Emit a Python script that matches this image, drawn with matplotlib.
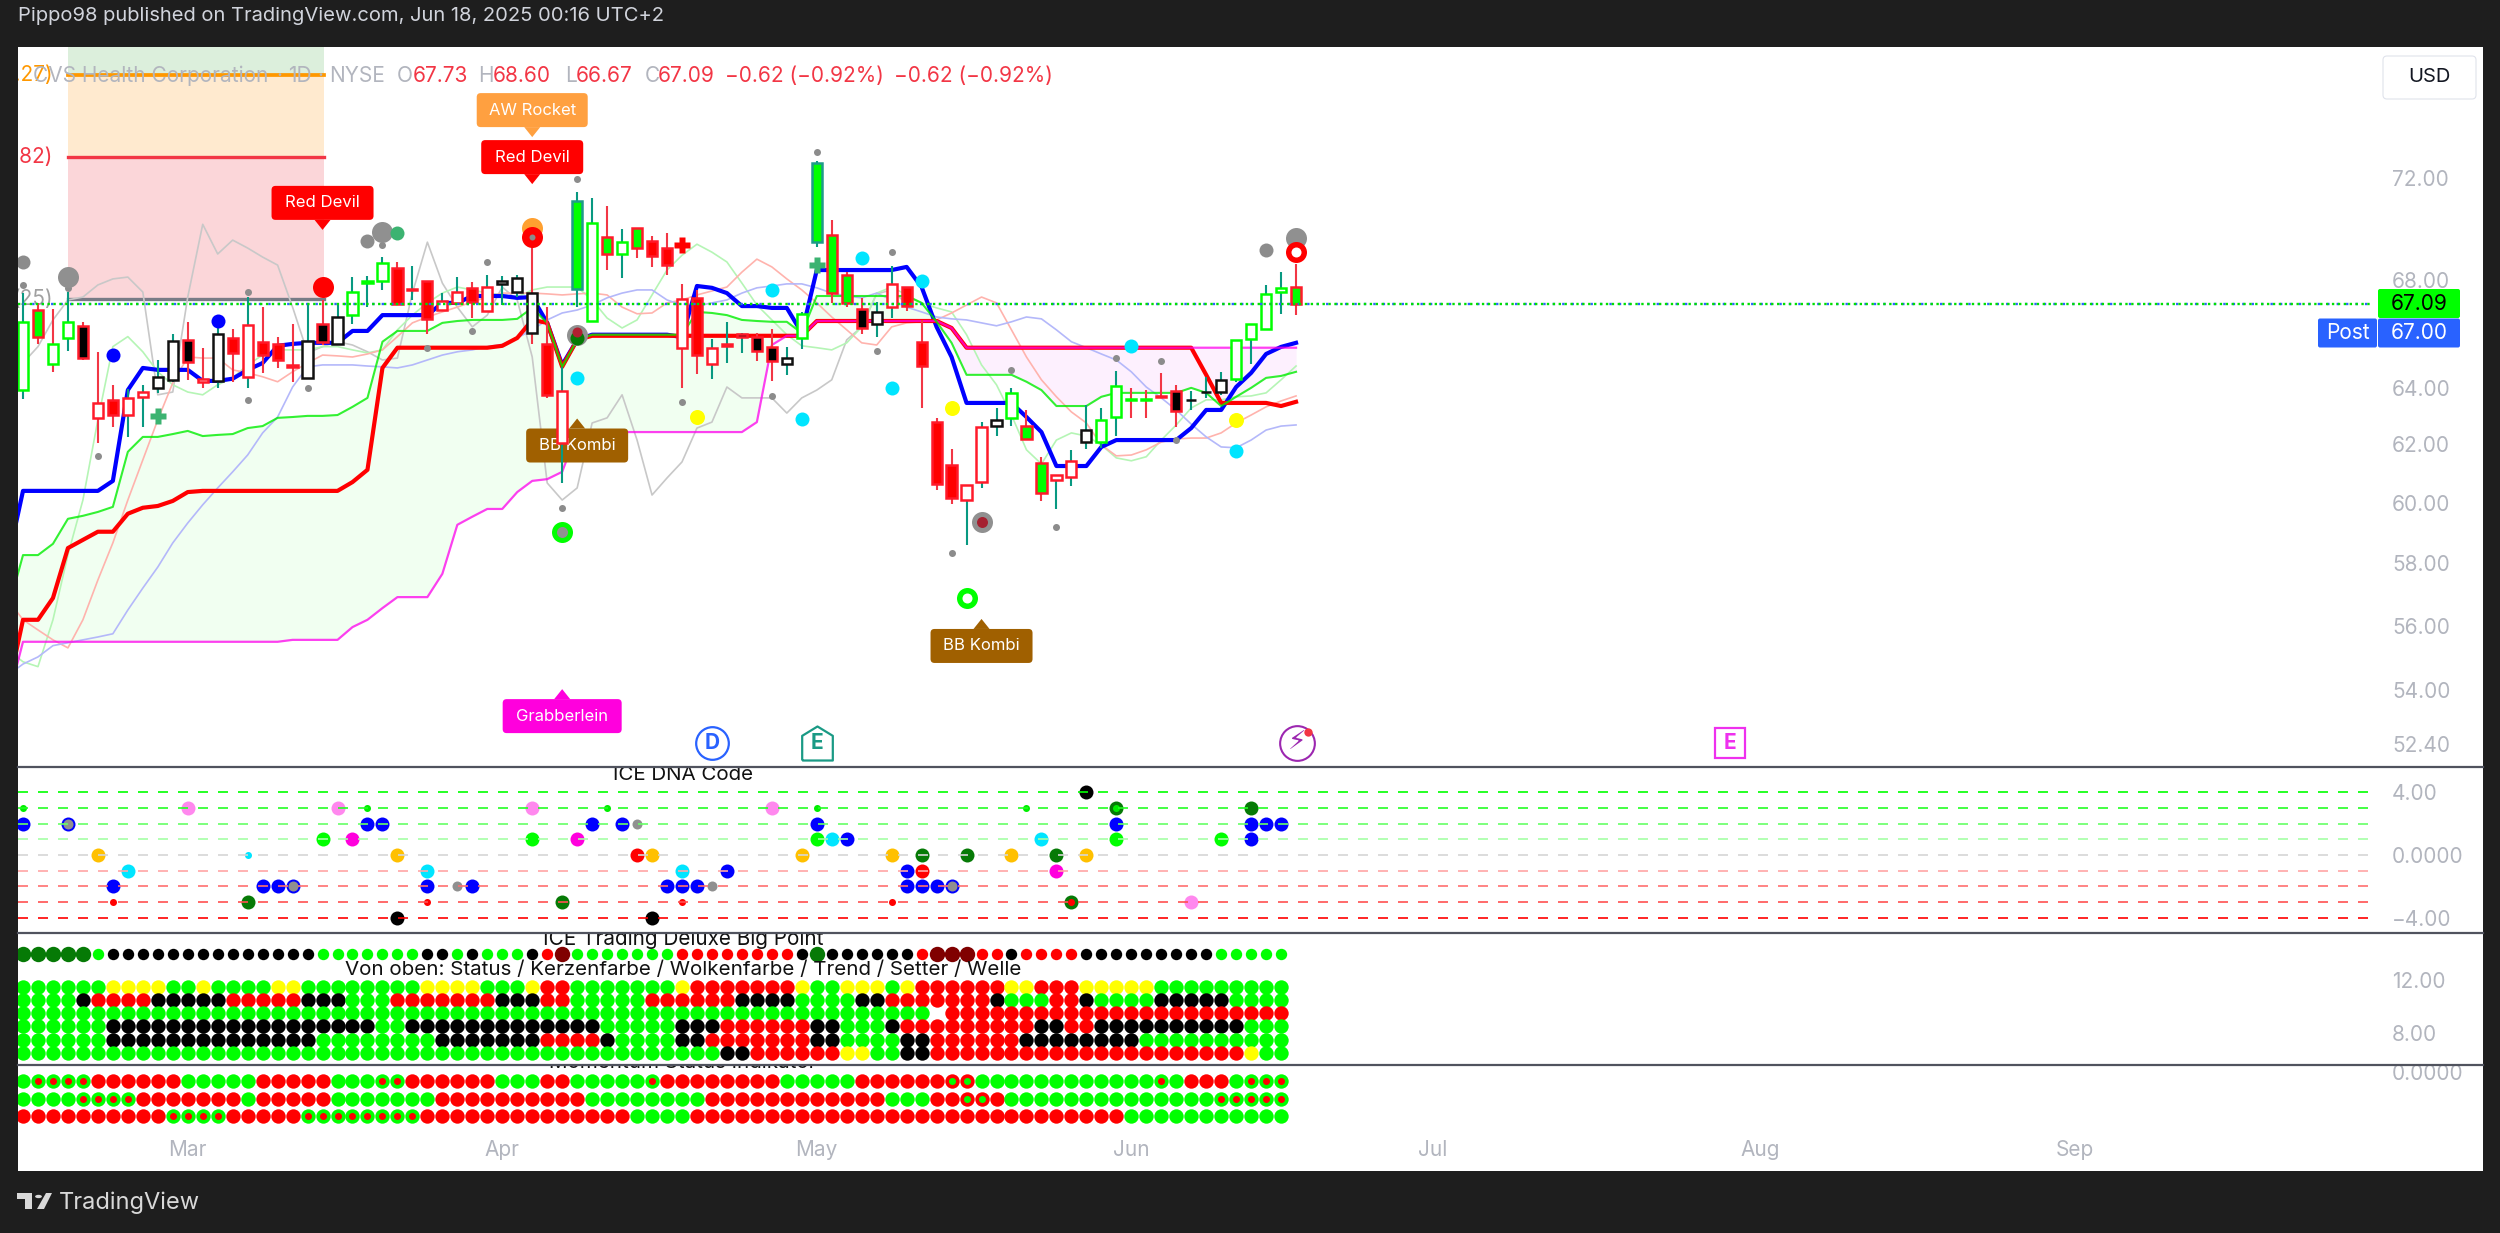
# CVS daily chart with ichimoku cloud and signal panes
import matplotlib
matplotlib.use('Agg')
import matplotlib.pyplot as plt
import numpy as np
from matplotlib.lines import Line2D
from matplotlib.patches import FancyBboxPatch, Polygon
from matplotlib.transforms import IdentityTransform

plt.rcParams['font.family'] = ['Inter', 'DejaVu Sans']

# candles
opens = [63.93, 66.87, 64.86, 65.8, 66.25, 62.93, 63.57, 63.03, 63.66, 64.0,
         64.3, 65.75, 64.22, 64.26, 65.8, 64.4, 65.66, 65.6, 64.82, 64.36,
         66.33, 65.6, 66.68, 67.9, 67.96, 68.46, 67.65, 67.96, 66.87, 67.12,
         67.7, 66.83, 67.85, 67.55, 66.0, 65.6, 62.05, 71.08, 66.45, 69.66,
         69.0, 70.0, 69.5, 69.23, 65.44, 67.3, 64.86, 65.58, 65.95, 65.85,
         65.5, 64.86, 65.8, 72.6, 69.75, 68.2, 66.9, 66.33, 66.97, 67.73,
         65.66, 62.78, 61.3, 60.1, 60.7, 62.64, 62.92, 62.64, 61.37, 60.76,
         60.86, 62.08, 62.08, 62.96, 63.6, 63.6, 63.69, 63.9, 63.57, 63.86,
         63.86, 64.33, 65.77, 66.17, 67.55, 67.73]
highs = [67.5, 67.12, 66.9, 67.55, 66.4, 65.3, 64.11, 63.95, 64.1, 65.01,
         65.95, 66.4, 65.46, 66.43, 66.15, 67.35, 66.97, 65.85, 66.33, 67.12,
         67.25, 67.05, 68.1, 68.15, 68.9, 68.69, 68.54, 67.96, 67.5, 68.1,
         67.92, 68.2, 68.15, 68.2, 69.27, 66.97, 64.75, 71.45, 71.2, 70.88,
         69.97, 70.0, 69.7, 69.8, 67.85, 67.6, 65.77, 66.43, 66.0, 66.0,
         66.17, 65.48, 66.8, 72.7, 70.32, 68.3, 67.3, 67.17, 68.54, 67.73,
         66.5, 62.92, 61.83, 60.6, 62.78, 63.29, 64.0, 63.2, 61.57, 60.93,
         61.8, 63.4, 63.29, 64.6, 64.0, 63.93, 64.54, 64.1, 63.9, 64.4,
         64.57, 65.73, 66.33, 67.8, 68.3, 68.6]
lows = [63.6, 65.6, 64.57, 65.35, 65.0, 62.05, 62.6, 62.25, 62.6, 63.82,
        64.22, 64.3, 64.0, 64.0, 64.22, 64.0, 64.55, 64.72, 64.22, 64.36,
        65.56, 65.56, 66.33, 66.97, 67.62, 67.09, 67.25, 65.95, 66.87, 67.05,
        66.58, 66.8, 67.05, 67.35, 65.6, 63.62, 60.66, 66.97, 66.43, 68.38,
        68.07, 68.84, 68.5, 68.2, 64.0, 64.5, 64.33, 64.9, 65.28, 64.97,
        64.25, 64.47, 65.4, 69.27, 67.12, 66.97, 65.95, 65.85, 66.58, 66.83,
        63.29, 60.44, 59.97, 58.6, 60.5, 62.29, 62.64, 62.15, 60.07, 59.8,
        60.55, 61.83, 61.87, 62.29, 62.92, 62.92, 63.66, 62.6, 63.2, 63.62,
        63.76, 64.2, 64.86, 66.13, 66.72, 66.67]
closes = [66.4, 65.85, 65.58, 66.4, 65.07, 63.46, 63.03, 63.64, 63.86, 64.4,
          65.72, 64.95, 64.33, 65.98, 65.28, 66.3, 65.2, 65.01, 64.75, 65.72,
          65.66, 66.6, 67.55, 67.95, 68.65, 67.09, 67.6, 66.54, 67.2, 67.55,
          67.17, 67.73, 67.96, 68.07, 67.5, 63.73, 63.9, 67.66, 70.2, 69.0,
          69.47, 69.23, 68.92, 68.57, 67.28, 65.2, 65.44, 65.53, 65.85, 65.35,
          64.97, 65.08, 66.72, 69.47, 67.5, 67.12, 66.2, 66.8, 67.85, 67.0,
          64.79, 60.63, 60.16, 60.6, 62.6, 62.85, 63.8, 62.19, 60.33, 60.93,
          61.44, 62.5, 62.85, 64.07, 63.57, 63.57, 63.66, 63.18, 63.55, 63.84,
          64.3, 65.73, 66.33, 67.47, 67.7, 67.09]
candle_face = ("wgwwkwrwww" "wkwwrwrrrw" "kwwgwrrrww" "rwwwwrwgwg" "wgrrwrwrkk"
               "kwwgggkwwr" "rrrwwwwggw" "wwwwggrkkk" "wwwwwg")
candle_edge = ("grggrrrrrk" "krrkrrrrrk" "rkgggrrrrr" "rrkkkrrtgr" "grrrrrrrrr"
               "rkgtrrrkrr" "rrrrrkgrrr" "rkggggrrkk" "kggggr")
candle_wick = ("trrtrrrttt" "trrtrtrrrt" "rttttrtrtt" "rtttrrtttr" "trrrrrtttr"
               "rtttrrrttr" "rrrttttrrt" "ttttrrrrtt" "tttttr")

# indicator lines, first value sits one bar left of the visible range
blue_line = [58.1, 60.4, 60.4, 60.4, 60.4, 60.4, 60.4, 60.74, 63.92, 64.72, 64.65,
             64.65, 64.65, 64.25, 64.25, 64.33, 64.65, 64.9, 65.53, 65.6, 65.64,
             65.64, 65.64, 66.08, 66.08, 66.67, 66.67, 66.67, 66.67, 67.13, 67.13,
             67.39, 67.39, 67.39, 67.32, 67.35, 66.38, 64.83, 65.75, 65.94, 65.94,
             65.94, 65.94, 65.94, 65.94, 65.85, 67.77, 67.7, 67.5, 67.01, 67.01,
             66.94, 66.94, 66.0, 68.38, 68.38, 68.38, 68.38, 68.38, 68.38, 68.5,
             67.73, 66.23, 65.12, 63.46, 63.46, 63.46, 63.46, 62.96, 62.43, 61.25,
             61.25, 61.25, 61.91, 62.15, 62.15, 62.15, 62.15, 62.15, 62.57, 63.21,
             63.21, 64.03, 64.54, 65.23, 65.49, 65.64]
red_line = [54.02, 56.18, 56.18, 56.87, 58.49, 58.76, 59.03, 59.03, 59.63, 59.83, 59.89,
            60.06, 60.36, 60.4, 60.4, 60.4, 60.4, 60.4, 60.4, 60.4, 60.4,
            60.4, 60.4, 60.7, 61.12, 64.72, 65.46, 65.46, 65.46, 65.46, 65.46,
            65.46, 65.46, 65.53, 65.82, 66.49, 66.38, 64.76, 65.75, 65.9, 65.9,
            65.9, 65.9, 65.9, 65.9, 65.9, 65.9, 65.9, 65.9, 65.9, 65.9,
            65.9, 65.9, 65.9, 66.45, 66.45, 66.45, 66.45, 66.45, 66.45, 66.45,
            66.45, 66.45, 66.19, 65.46, 65.46, 65.46, 65.46, 65.46, 65.46, 65.46,
            65.46, 65.46, 65.46, 65.46, 65.46, 65.46, 65.46, 65.46, 65.46, 64.47,
            63.46, 63.46, 63.46, 63.46, 63.35, 63.5]
green_line = [56.49, 58.26, 58.26, 58.63, 59.46, 59.56, 59.69, 59.86, 61.74, 62.26, 62.26,
              62.36, 62.47, 62.29, 62.33, 62.36, 62.57, 62.64, 62.93, 62.96, 63.0,
              63.0, 63.03, 63.32, 63.64, 65.68, 66.08, 66.08, 66.08, 66.38, 66.45,
              66.49, 66.49, 66.49, 66.53, 66.94, 66.38, 64.76, 65.75, 65.94, 65.94,
              65.94, 65.94, 65.94, 65.94, 65.94, 66.79, 66.75, 66.67, 66.49, 66.45,
              66.42, 66.42, 66.0, 67.39, 67.39, 67.39, 67.39, 67.39, 67.39, 67.39,
              67.13, 66.42, 65.64, 64.47, 64.47, 64.47, 64.47, 64.22, 63.92, 63.35,
              63.35, 63.35, 63.68, 63.82, 63.82, 63.82, 63.82, 63.82, 64.0, 63.82,
              63.35, 63.68, 64.0, 64.36, 64.43, 64.58]
magenta_line = [53.7, 55.49, 55.49, 55.49, 55.49, 55.49, 55.49, 55.49, 55.49, 55.49, 55.49,
                55.49, 55.49, 55.49, 55.49, 55.49, 55.49, 55.49, 55.49, 55.55, 55.55,
                55.55, 55.55, 55.95, 56.18, 56.55, 56.9, 56.9, 56.9, 57.65, 59.26,
                59.53, 59.79, 59.79, 60.36, 60.74, 60.8, 61.05, 62.43, 62.43, 62.43,
                62.43, 62.43, 62.43, 62.43, 62.43, 62.43, 62.43, 62.43, 62.43, 62.78,
                65.56, 65.9, 65.9, 66.45, 66.45, 66.45, 66.45, 66.45, 66.45, 66.45,
                66.45, 66.45, 66.19, 65.46, 65.46, 65.46, 65.46, 65.46, 65.46, 65.46,
                65.46, 65.46, 65.46, 65.46, 65.46, 65.46, 65.46, 65.46, 65.46, 65.46,
                65.46, 65.46, 65.46, 65.46, 65.46, 65.46]
pale_green = [55.24, 54.87, 54.72, 56.18, 58.27, 60.09, 62.86, 65.5, 65.87, 65.31, 64.58,
              64.11, 63.85, 63.75, 64.11, 64.36, 64.83, 65.19, 65.38, 65.38, 65.38,
              65.5, 65.5, 65.38, 65.27, 65.38, 66.12, 66.67, 67.13, 67.5, 67.73,
              67.62, 67.5, 67.43, 67.35, 67.62, 67.73, 67.73, 67.73, 67.24, 66.56,
              66.19, 66.49, 67.43, 68.38, 68.95, 69.38, 69.07, 68.69, 67.88, 67.05,
              66.49, 65.94, 65.53, 65.46, 65.38, 65.64, 66.23, 67.5, 67.73, 67.43,
              67.13, 66.94, 66.79, 65.94, 64.83, 64.11, 63.03, 61.81, 61.32, 62.15,
              62.4, 62.29, 61.98, 61.53, 61.43, 61.57, 62.15, 62.68, 63.28, 63.57,
              63.57, 63.68, 63.71, 63.82, 64.29, 64.79]
pale_red = [56.81, 56.18, 55.86, 55.55, 55.3, 56.18, 57.45, 58.66, 60.09, 61.46, 62.86,
            64.18, 65.12, 65.08, 65.08, 64.65, 64.54, 64.4, 64.22, 64.58, 64.9,
            65.19, 65.16, 65.12, 65.23, 65.38, 65.87, 66.38, 66.6, 66.79, 66.97,
            67.17, 67.35, 67.5, 67.5, 67.5, 67.47, 67.43, 67.47, 67.5, 67.43,
            66.97, 66.72, 66.75, 67.13, 67.24, 67.43, 67.58, 67.73, 68.3, 68.8,
            68.5, 68.04, 67.62, 67.13, 66.6, 66.12, 65.64, 65.56, 66.23, 66.38,
            66.42, 66.49, 66.75, 67.05, 67.35, 67.13, 66.12, 65.12, 64.29, 63.68,
            63.14, 62.75, 61.98, 61.6, 61.63, 61.81, 62.08, 62.19, 62.22, 62.22,
            62.4, 62.75, 63.03, 63.32, 63.53, 63.71]
pale_blue = [54.46, 54.8, 55.02, 55.37, 55.46, 55.55, 55.64, 55.74, 56.49, 57.19, 57.87,
             58.66, 59.32, 59.93, 60.5, 61.05, 61.63, 62.4, 62.96, 64.03, 64.76,
             64.83, 64.83, 64.83, 64.79, 64.76, 64.72, 64.83, 65.01, 65.19, 65.31,
             65.38, 65.5, 65.58, 65.82, 66.12, 66.49, 66.75, 66.86, 67.05, 67.32,
             67.5, 67.62, 67.62, 67.24, 67.05, 67.01, 67.13, 67.24, 67.5, 67.7,
             67.77, 67.85, 67.85, 67.7, 67.5, 67.39, 67.32, 67.5, 67.24, 66.97,
             66.79, 66.6, 66.53, 66.49, 66.38, 66.27, 66.42, 66.6, 66.53, 66.12,
             65.68, 65.46, 65.23, 65.01, 64.58, 64.03, 63.64, 63.21, 62.71, 62.26,
             61.91, 61.88, 62.15, 62.5, 62.64, 62.68]
gray_line = [64.29, 64.9, 65.5, 66.49, 67.24, 67.35, 67.81, 68.04, 68.11, 67.54, 63.75,
             63.85, 67.35, 70.16, 69.0, 69.54, 69.23, 68.88, 68.57, 66.97, 65.27,
             65.5, 65.68, 65.56, 65.31, 65.01, 65.08, 67.5, 69.46, 67.88, 66.97,
             66.23, 66.67, 67.73, 67.24, 65.12, 60.67, 60.09, 60.5, 62.75, 62.93,
             63.75, 62.15, 60.26, 60.84, 61.39, 62.57, 62.78, 64.03, 63.64, 63.64,
             63.64, 63.1, 63.64, 63.92, 64.29, 65.75, 66.23, 67.47, 67.62, 67.09]

# signal dots on the price pane as (bar, price)
gray_small = [(0, 67.81), (3, 67.7), (24, 69.35), (15, 67.54), (19, 64.0), (15, 63.57), (5, 61.6),
              (30, 66.08), (27, 65.46), (31, 68.69), (37, 71.98), (44, 63.5), (36, 59.83), (53, 73.07),
              (58, 69.07), (57, 65.34), (50, 63.71), (66, 64.65), (73, 65.08), (76, 64.97), (77, 62.15),
              (69, 59.19), (62, 58.33)]
gray_medium = [(0, 68.69), (23, 69.5), (83, 69.15)]
gray_large = [(3, 68.11), (24, 69.85), (85, 69.62), (37, 65.94), (64, 59.35)]
blue_dots = [(13, 66.45), (6, 65.19)]
cyan_dots = [(37, 64.36), (56, 68.84), (50, 67.62), (52, 62.89), (58, 64.0), (60, 67.96), (74, 65.53), (81, 61.78)]
yellow_dots = [(45, 62.96), (62, 63.28), (81, 62.85)]

# fib zone, last price, axis ticks
zone_bars = [3, 20.1]
zone_levels = [79.0, 76.3, 72.87, 67.28]
last_close = 67.09
post_price = 67.00
price_ticks = [52.4, 54, 56, 58, 60, 62, 64, 68, 72]
month_bars = [11, 32, 53, 74, 94.1, 116, 137]
month_names = ['Mar', 'Apr', 'May', 'Jun', 'Jul', 'Aug', 'Sep']

# ICE DNA Code pane
dna_levels = [4, 3, 2, 1, 0, -1, -2, -3, -4]
dna_level_colors = ['#00ff00', '#22ff22', '#66ff66', '#a5ffa5', '#d6d6d6', '#ffa5a5', '#ff7070', '#ff5050', '#ff0000']
dna_blue = [(0, 2), (23, 2), (24, 2), (38, 2), (40, 2), (53, 2), (73, 2), (82, 2), (83, 2), (84, 2),
            (55, 1), (82, 1), (47, -1), (59, -1), (6, -2), (16, -2), (17, -2), (27, -2), (30, -2),
            (43, -2), (44, -2), (45, -2), (59, -2), (60, -2), (61, -2)]
dna_blue_gray = [(3, 2), (18, -2), (62, -2)]
dna_gray = [(41, 2), (29, -2), (46, -2)]
dna_lime = [(20, 1), (34, 1), (53, 1), (73, 1), (80, 1)]
dna_pink = [(11, 3), (21, 3), (34, 3), (50, 3), (78, -3)]
dna_magenta = [(22, 1), (37, 1), (69, -1)]
dna_cyan = [(54, 1), (68, 1), (7, -1), (27, -1), (44, -1)]
dna_orange = [(5, 0), (25, 0), (42, 0), (52, 0), (58, 0), (66, 0), (71, 0)]
dna_red = [(41, 0), (60, -1)]
dna_dark = [(60, 0), (63, 0), (69, 0), (15, -3), (36, -3), (82, 3), (73, 3), (70, -3)]
dna_black = [(71, 4), (25, -4), (42, -4)]
dna_small_lime = [(0, 3), (23, 3), (39, 3), (53, 3), (67, 3), (73, 3)]
dna_small_red = [(6, -3), (27, -3), (44, -3), (58, -3), (70, -3)]
dna_small_cyan = [(15, 0)]
dna_ticks = [4, 0, -4]
dna_tick_labels = ['4.00', '0.0000', '\u22124.00']

# ICE Trading Deluxe pane, one letter per bar
big_point_row = ('D'*5 + 'G' + 'K'*14 + 'G'*7 + 'KK' + 'G' + 'K' + 'GGG' + 'K' + 'R' + 'B' + 'G'*7 + 'R'*8
                 + 'K' + 'D' + 'K'*6 + 'R' + 'BBB' + 'RR' + 'K' + 'RRRR' + 'K'*9 + 'G'*5)
status_row = ('G'*6 + 'Y'*4 + 'GG' + 'Y' + 'G'*4 + 'YY' + 'G'*8 + 'Y'*4 + 'GGG' + 'Y' + 'RR' + 'G'*7 + 'Y' + 'R'*7
              + 'Y' + 'GG' + 'YYY' + 'G' + 'Y' + 'R'*6 + 'YY' + 'RRR' + 'Y'*5 + 'G'*9)
candle_row = ('G'*4 + 'K' + 'R'*4 + 'K'*5 + 'R'*5 + 'K'*3 + 'G'*3 + 'R'*7 + 'K'*3 + 'RR' + 'G'*5 + 'R'*3 + 'R'*3
              + 'K'*4 + 'G'*4 + 'KK' + 'R'*7 + 'K' + 'GGG' + 'RR' + 'K' + 'G'*4 + 'K'*5 + 'G'*4)
cloud_row = 'G'*61 + '.' + 'R'*23
trend_row = ('G'*6 + 'K'*18 + 'GG' + 'K'*13 + 'G'*5 + 'KKK' + 'R'*6 + 'KK' + 'GGG' + 'K' + 'R'*9 + 'KK' + 'RR'
             + 'K'*10 + 'GGG')
setter_row = ('G'*6 + 'K'*14 + 'G'*8 + 'K'*7 + 'R'*4 + 'K' + 'G'*4 + 'KK' + 'R'*7 + 'KK' + 'G'*4 + 'KK' + 'R'*6
              + 'K'*8 + 'G'*10)
wave_row = 'G'*47 + 'KK' + 'R'*6 + 'YY' + 'GG' + 'KK' + 'R'*21 + 'Y' + 'GG'
deluxe_rows = [status_row, candle_row, cloud_row, trend_row, setter_row, wave_row]
deluxe_levels = [11.5, 10.5, 9.5, 8.5, 7.5, 6.5]
big_point_level = 14

# Momentum pane, lower case means a dot with a centre of the other colour
mom_row1 = ('G' + 'g'*4 + 'R'*6 + 'G'*5 + 'R'*5 + 'G'*3 + 'gg' + 'R'*6 + 'G'*3 + 'RR' + 'G'*5 + 'g' + 'RR' + 'R'*6
            + 'G'*5 + 'R'*6 + 'rr' + 'G'*12 + 'g' + 'G' + 'R'*3 + 'G' + 'g'*3)
mom_row2 = ('G'*4 + 'g'*4 + 'R'*7 + 'G' + 'R'*5 + 'G'*7 + 'R'*10 + 'G'*8 + 'R'*12 + 'G'*3 + 'RR' + 'rr' + 'R'
            + 'G'*14 + 'g'*5)
mom_row3 = 'R'*10 + 'g'*4 + 'R'*5 + 'g'*8 + 'R'*14 + 'G'*4 + 'R'*29 + 'G'*11
mom_rows = [mom_row1, mom_row2, mom_row3]
mom_levels = [-0.5, -1.5, -2.5]

W, H = 2500, 1233
LEFT, RIGHT = 18, 2483
BAR0, BAR_W = 23, 14.977
PX = 0.72  # points per pixel at dpi 100
XMIN, XMAX = (LEFT - BAR0) / BAR_W, (RIGHT - BAR0) / BAR_W
FACE = {'w': 'white', 'g': '#00ff00', 'r': '#ff0000', 'k': 'black'}
EDGE = {'g': '#00ff00', 'r': '#ff1a2a', 'k': '#111111', 't': '#1f9a8a'}
WICK = {'t': '#089981', 'r': '#f23645'}
ROWCOL = {'G': '#00ff00', 'R': '#ff0000', 'K': 'black', 'Y': '#ffff00', 'D': '#067a06', 'B': '#800000'}
GREY = '#b2b5be'

fig = plt.figure(figsize=(25, 12.33), dpi=100, facecolor='#1e1e1e')


def pane(top, bottom, ymin, ymax):
    ax = fig.add_axes([LEFT / W, 1 - bottom / H, (RIGHT - LEFT) / W, (bottom - top) / H])
    ax.set_facecolor('white')
    ax.set_xlim(XMIN, XMAX)
    ax.set_ylim(ymin, ymax)
    for s in ax.spines.values():
        s.set_visible(False)
    ax.set_xticks([])
    ax.yaxis.tick_right()
    ax.tick_params(axis='y', which='both', length=0, pad=-65.5, labelsize=15, labelcolor=GREY)
    return ax


def dots(ax, pts, color, r, z=7, **kw):
    xs = [p[0] for p in pts]
    ys = [p[1] for p in pts]
    ax.plot(xs, ys, 'o', ms=2 * r * PX, mfc=color, mec='none', ls='none', zorder=z, **kw)


def tag(ax, bar, price, text, color, up=False, w=102, h=34):
    cx, cy = ax.transData.transform((bar, price))
    tr = IdentityTransform()
    ax.add_patch(FancyBboxPatch((cx - w / 2, cy - h / 2), w, h, boxstyle='round,pad=0,rounding_size=4',
                                fc=color, ec='none', transform=tr, zorder=4))
    s = 1 if up else -1
    ax.add_patch(Polygon([(cx - 8, cy + s * h / 2), (cx + 8, cy + s * h / 2), (cx, cy + s * (h / 2 + 10))],
                         fc=color, ec='none', transform=tr, zorder=4))
    ax.text(cx, cy, text, color='white', fontsize=12, ha='center', va='center', transform=tr, zorder=4.5)


def price_box(ax, x0, x1, cy, text, color, tcolor):
    tr = IdentityTransform()
    ax.add_patch(FancyBboxPatch((x0, H - cy - 14.5), x1 - x0, 29, boxstyle='round,pad=0,rounding_size=2',
                                fc=color, ec='none', transform=tr, zorder=9, clip_on=False))
    ax.text((x0 + x1) / 2, H - cy, text, color=tcolor, fontsize=15, ha='center', va='center',
            transform=tr, zorder=10)


# price pane
ax = pane(47, 767, 51.72, 77.51)
ax.set_yscale('log')
ax.set_ylim(51.72, 77.51)
ax.set_yticks(price_ticks, ['%.2f' % t for t in price_ticks])
ax.minorticks_off()
ax.tick_params(axis='y', which='both', length=0, pad=-65.5, labelsize=15, labelcolor=GREY)

# fib zone
ax.fill_between(zone_bars, zone_levels[1], zone_levels[0], color='#dcefdc', lw=0, zorder=1)
ax.fill_between(zone_bars, zone_levels[2], zone_levels[1], color='#ffeacf', lw=0, zorder=1)
ax.fill_between(zone_bars, zone_levels[3], zone_levels[2], color='#fbd6d9', lw=0, zorder=1)
ax.plot(zone_bars, [zone_levels[1]] * 2, color='#ff9800', lw=2.7, zorder=1.5)
ax.plot(zone_bars, [zone_levels[2]] * 2, color='#f23645', lw=2.4, zorder=1.5)
ax.plot(zone_bars, [zone_levels[3]] * 2, color='#787b86', lw=2.4, zorder=1.5)
ax.text(2, zone_levels[1], '1.27)', color='#ff9800', fontsize=15, ha='right', va='center', clip_on=True, zorder=1.6)
ax.text(2, zone_levels[2], '0.82)', color='#f23645', fontsize=15, ha='right', va='center', clip_on=True, zorder=1.6)
ax.text(2, zone_levels[3], '(25)', color='#a0a0a0', fontsize=15, ha='right', va='center', clip_on=True, zorder=1.6)

# cloud and lines
line_x = np.arange(-1, 86)
ga = np.array(green_line)
ma = np.array(magenta_line)
ax.fill_between(line_x, ga, ma, where=ga >= ma, interpolate=True, color='#f1fff1', lw=0, zorder=1)
ax.fill_between(line_x, ga, ma, where=ga <= ma, interpolate=True, color='#fdf0fe', lw=0, zorder=1)
ax.plot(line_x[:len(gray_line)], gray_line, color='#c8c8c8', lw=1.2, zorder=2)
ax.plot(line_x, pale_green, color='#b5f5b5', lw=1.2, zorder=2)
ax.plot(line_x, pale_red, color='#ffb3ad', lw=1.2, zorder=2)
ax.plot(line_x, pale_blue, color='#b4b8fa', lw=1.2, zorder=2)
ax.plot(line_x, blue_line, color='#0000ff', lw=3, zorder=3)
ax.plot(line_x, red_line, color='#ff0000', lw=3, zorder=3.1)
ax.plot(line_x, magenta_line, color='#ff00ee', lw=1.6, alpha=0.75, zorder=3.2)
ax.plot(line_x, green_line, color='#00ee00', lw=1.5, alpha=0.8, zorder=3.3)

# candles
bars = np.arange(len(opens))
ax.vlines(bars, lows, highs, colors=[WICK[c] for c in candle_wick], lw=1.5, zorder=5)
ax.bar(bars, np.array(closes) - np.array(opens), bottom=opens, width=0.68,
       color=[FACE[c] for c in candle_face], edgecolor=[EDGE[c] for c in candle_edge],
       linewidth=1.8, zorder=6)

# signal dots
dots(ax, gray_small, '#8c8c8c', 3.5)
dots(ax, gray_medium, '#8c8c8c', 7)
dots(ax, gray_large, '#909090', 10.5)
dots(ax, blue_dots, '#0000ff', 7)
dots(ax, cyan_dots, '#00e5ff', 7)
dots(ax, yellow_dots, '#ffff00', 7.5)
dots(ax, [(20, 67.73)], '#ff0000', 10.5)
dots(ax, [(34, 70.03)], '#ffa030', 10.5)
dots(ax, [(34, 69.66)], '#ff0000', 10.5, z=7.1)
dots(ax, [(34, 69.66)], '#8c8c8c', 3, z=7.2)
dots(ax, [(25, 69.81)], '#3cb371', 7)
dots(ax, [(37, 65.8)], '#067a06', 7, z=7.1)
dots(ax, [(37, 66.05)], '#b02030', 5, z=7.2)
dots(ax, [(64, 59.35)], '#a52030', 5.5, z=7.2)
dots(ax, [(36, 59.02)], '#00ff00', 10.5, z=7.1)
dots(ax, [(36, 59.02)], '#909090', 5.5, z=7.2)
dots(ax, [(63, 56.87)], '#00ff00', 10.5, z=7.1)
dots(ax, [(63, 56.87)], 'white', 5, z=7.2)
dots(ax, [(85, 69.07)], '#ff0000', 10.5, z=7.1)
dots(ax, [(85, 69.07)], 'white', 5, z=7.2)
ax.plot([9, 53], [62.99, 68.57], 'P', ms=12, mfc='#3cb371', mec='none', ls='none', zorder=7)
ax.plot([44], [69.35], 'P', ms=12, mfc='#ff0000', mec='none', ls='none', zorder=7)

# tags
tag(ax, 20, 71.01, 'Red Devil', '#ff0000')
tag(ax, 34, 74.81, 'AW Rocket', '#ffa040', w=111)
tag(ax, 34, 72.86, 'Red Devil', '#ff0000')
tag(ax, 37, 61.96, 'BB Kombi', '#a06000', up=True)
tag(ax, 36, 53.22, 'Grabberlein', '#ff00dd', up=True, w=119)
tag(ax, 64, 55.36, 'BB Kombi', '#a06000', up=True)

# last price line
ax.plot([XMIN, 156.9], [last_close] * 2, color='#2962ff', lw=1.7, ls=(2, (1, 3)), zorder=8)
ax.plot([XMIN, 156.9], [last_close] * 2, color='#00e000', lw=1.7, ls=(0, (1, 1.5)), zorder=8.1)

# event icons
ICON_Y = 52.43
ax.plot([46], [ICON_Y], 'o', ms=23.5, mfc='white', mec='#2962ff', mew=1.6, zorder=7)
ax.text(46, ICON_Y, 'D', color='#2962ff', fontsize=15, fontweight='bold', ha='center', va='center', zorder=7.1)
ax.plot([53], [ICON_Y], marker=[(-.9, -1), (-.9, .45), (0, 1), (.9, .45), (.9, -1), (-.9, -1)], ms=24.5,
        mfc='white', mec='#1a9a85', mew=1.6, zorder=7)
ax.text(53, ICON_Y, 'E', color='#1a9a85', fontsize=15, fontweight='bold', ha='center', va='center', zorder=7.1)
ax.plot([114], [ICON_Y], 's', ms=21, mfc='white', mec='#ee30ee', mew=1.6, zorder=7)
ax.text(114, ICON_Y, 'E', color='#ee30ee', fontsize=15, fontweight='bold', ha='center', va='center', zorder=7.1)
ax.plot([85.06], [ICON_Y], 'o', ms=25, mfc='white', mec='#9c27b0', mew=1.5, zorder=7)
ax.text(85.06, ICON_Y, '\u26a1', color='#9c27b0', fontsize=19, family='DejaVu Sans', ha='center', va='center', zorder=7.1)
ax.plot([85.8], [52.75], 'o', ms=6, mfc='#f23645', mec='none', zorder=7.2)

# legend line
legend_items = [(33, 'CVS Health Corporation', GREY), (276, '\u00b7', GREY), (288, '1D', GREY),
                (317, '\u00b7', GREY), (329, 'NYSE', GREY),
                (397, 'O', GREY), (413, '67.73', '#f23645'),
                (478, 'H', GREY), (493, '68.60', '#f23645'),
                (565, 'L', GREY), (576, '66.67', '#f23645'),
                (645, 'C', GREY), (658, '67.09', '#f23645'),
                (725, '\u22120.62 (\u22120.92%)', '#f23645'),
                (894, '\u22120.62 (\u22120.92%)', '#f23645')]
for lx, lt, lc in legend_items:
    fig.text(lx / W, 1 - 76 / H, lt, color=lc, fontsize=15, ha='left', va='center', zorder=20)

# price boxes and currency
price_box(ax, 2378, 2460, 303.5, '%.2f' % last_close, '#00ff00', 'black')
price_box(ax, 2378, 2460, 333, '%.2f' % post_price, '#2962ff', 'white')
price_box(ax, 2318, 2377, 333, 'Post', '#2962ff', 'white')
ax.add_patch(FancyBboxPatch((2383, H - 99), 93, 43, boxstyle='round,pad=0,rounding_size=4', fc='white',
                            ec='#e0e3eb', lw=0.8, transform=IdentityTransform(), zorder=9))
ax.text(2429.5, H - 77.5, 'USD', color='#131722', fontsize=14.5, ha='center', va='center',
        transform=IdentityTransform(), zorder=10)

# ICE DNA Code pane
ax2 = pane(767, 933, -4.96, 5.6)
ax2.set_yticks(dna_ticks, dna_tick_labels)
for lv, lc in zip(dna_levels, dna_level_colors):
    ax2.plot([XMIN, 157.2], [lv, lv], color=lc, lw=1.2, ls=(0, (6, 6)), zorder=5)
dots(ax2, dna_blue, '#0000ff', 7, z=3)
dots(ax2, dna_blue_gray, '#0000ff', 7, z=3)
dots(ax2, dna_blue_gray, '#909090', 5, z=3.1)
dots(ax2, dna_gray, '#909090', 5, z=3)
dots(ax2, dna_lime, '#00ff00', 7, z=3)
dots(ax2, dna_pink, '#ff88ee', 7, z=3)
dots(ax2, dna_magenta, '#ff00dd', 7, z=3)
dots(ax2, dna_cyan, '#00e5ff', 7, z=3)
dots(ax2, dna_orange, '#ffc000', 7, z=3)
dots(ax2, dna_red, '#ff0000', 7, z=3)
dots(ax2, dna_dark, '#067a06', 7, z=3)
dots(ax2, dna_black, 'black', 7, z=3)
dots(ax2, dna_small_lime, '#00ee00', 3.5, z=3.2)
dots(ax2, dna_small_red, '#ff0000', 3.5, z=3.2)
dots(ax2, dna_small_cyan, '#00e5ff', 3.5, z=3.2)
ax2.text(44.07, 5.1, 'ICE DNA Code', color='#111111', fontsize=14.8, ha='center', va='center', clip_on=True)

# ICE Trading Deluxe pane
ax3 = pane(933, 1065, 5.58, 15.55)
ax3.set_yticks([12, 8], ['12.00', '8.00'])
for i, c in enumerate(big_point_row):
    dots(ax3, [(i, big_point_level)], ROWCOL[c], 7.7 if c in 'DB' else 5.7, z=3)
for row, lv in zip(deluxe_rows, deluxe_levels):
    for i, c in enumerate(row):
        if c != '.':
            dots(ax3, [(i, lv)], ROWCOL[c], 7.2, z=3)
ax3.text(44.07, 15.1, 'ICE Trading Deluxe Big Point', color='#111111', fontsize=14.9, ha='center', va='center', clip_on=True)
ax3.text(44.07, 12.75, 'Von oben: Status / Kerzenfarbe / Wolkenfarbe / Trend / Setter / Welle', color='#111111',
         fontsize=14.8, ha='center', va='center', zorder=6)

# Momentum pane and time axis
ax4 = pane(1065, 1171, -5.59, 0.39)
ax4.set_yticks([0], ['0.0000'])
for row, lv in zip(mom_rows, mom_levels):
    for i, c in enumerate(row):
        outer = '#00ff00' if c in 'Gg' else '#ff0000'
        dots(ax4, [(i, lv)], outer, 7.2, z=3)
        if c == 'g':
            dots(ax4, [(i, lv)], '#ff0000', 3.5, z=3.1)
        if c == 'r':
            dots(ax4, [(i, lv)], '#00ff00', 3.5, z=3.1)
for lab in ax4.get_yticklabels():
    lab.set_clip_on(True)
    lab.set_clip_box(ax4.bbox)
ax4.text(44.07, 0.226, 'Momentum Status Indikator', color='#111111', fontsize=14.8, ha='center', va='baseline', clip_on=True)
ax4.set_xticks(month_bars, month_names)
ax4.tick_params(axis='x', length=0, pad=-22, labelsize=15, labelcolor=GREY)

# pane separators
for sep in [767, 933, 1065]:
    fig.add_artist(Line2D([LEFT / W, RIGHT / W], [1 - sep / H] * 2, color='#50535e', lw=1.6, zorder=15))

# header and footer
fig.text(18 / W, 1 - 16 / H, 'Pippo98 published on TradingView.com, Jun 18, 2025 00:16 UTC+2',
         color='#d1d4dc', fontsize=14.5, ha='left', va='center')
fig.text(59 / W, 1 - 1203 / H, 'TradingView', color='#d9d9d9', fontsize=17, ha='left', va='center')


def logo(points):
    fig.add_artist(Polygon([(x / W, 1 - y / H) for x, y in points], closed=True, fc='#d9d9d9', ec='none',
                           transform=fig.transFigure))


logo([(17, 1193), (32, 1193), (32, 1209), (25, 1209), (25, 1199), (17, 1199)])
logo([(46, 1193), (52, 1193), (44, 1209), (37, 1209)])
fig.add_artist(plt.Circle((38.5 / W, 1 - 1196.5 / H), 3.4 / W, fc='#d9d9d9', ec='none', transform=fig.transFigure))

fig.savefig('out.png', dpi=100, facecolor=fig.get_facecolor())
